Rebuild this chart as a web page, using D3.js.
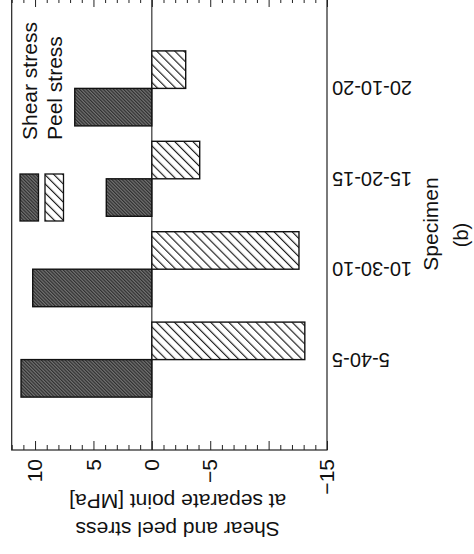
<!DOCTYPE html>
<html>
<head>
<meta charset="utf-8">
<script src="https://cdn.jsdelivr.net/npm/d3@7"></script>
<style>
  html, body { margin: 0; padding: 0; background: #fff; }
  svg { display: block; }
  text { font-family: "Liberation Sans", Arial, Helvetica, sans-serif; fill: #111; }
</style>
</head>
<body>
<svg id="chart" width="474" height="554"></svg>
<script>
// Specimens and stress values at the separation point [MPa]
const specimens   = ["5-40-5", "10-30-10", "15-20-15", "20-10-20"];
const shearStress = [11.2, 10.2, 3.9, 6.6];
const peelStress  = [-13.1, -12.6, -4.1, -2.9];
const seriesNames = ["Shear stress", "Peel stress"];
const majorTicks  = [10, 5, 0, -5, -10, -15];
const tickLabels  = { "10": "10", "5": "5", "0": "0", "-5": "\u22125", "-15": "\u221215" };
const minorTicks  = d3.range(-15, 13).filter(v => v % 5 !== 0);
const valueDomain = [-15, 12];
const yTitle      = ["Shear and peel stress", "at separate point [MPa]"];
const xTitle      = "Specimen";
const panelTag    = "(b)";

const svg = d3.select("#chart");
const W = 452, H = 315.3;

// The panel is laid out as an upright bar chart and then turned a quarter turn
const g = svg.append("g").attr("transform", "translate(11.7,450) rotate(-90)");

const x = d3.scalePoint().domain(specimens).range([0, W]).padding(1);
const y = d3.scaleLinear().domain(valueDomain).range([H, 0]);
const bw = 37.5;

// hatch fills
const defs = svg.append("defs");
const shearPat = defs.append("pattern")
  .attr("id", "shearHatch").attr("patternUnits", "userSpaceOnUse")
  .attr("width", 2.4).attr("height", 2.4).attr("patternTransform", "rotate(45)");
shearPat.append("rect").attr("width", 2.4).attr("height", 2.4).attr("fill", "#727272");
shearPat.append("line").attr("x1", 0.6).attr("x2", 0.6).attr("y1", 0).attr("y2", 2.4)
  .attr("stroke", "#2a2a2a").attr("stroke-width", 1.1);

const peelPat = defs.append("pattern")
  .attr("id", "peelHatch").attr("patternUnits", "userSpaceOnUse")
  .attr("width", 6.4).attr("height", 6.4).attr("patternTransform", "rotate(45)");
peelPat.append("rect").attr("width", 6.4).attr("height", 6.4).attr("fill", "#fff");
peelPat.append("line").attr("x1", 0.6).attr("x2", 0.6).attr("y1", 0).attr("y2", 6.4)
  .attr("stroke", "#111").attr("stroke-width", 1.1);

const fills = ["url(#shearHatch)", "url(#peelHatch)"];

// ticks on the value axis (left) and its mirror (right), pointing inward
function styleAxis(sel) {
  sel.select(".domain").remove();
  sel.selectAll("line").attr("stroke", "#222").attr("stroke-width", 1);
}
g.append("g").call(d3.axisLeft(y).tickValues(minorTicks).tickSize(-5).tickFormat("")).call(styleAxis);
const yMajor = g.append("g")
  .call(d3.axisLeft(y).tickValues(majorTicks).tickSize(-9).tickPadding(9)
    .tickFormat(v => tickLabels[String(v)] || ""))
  .call(styleAxis);
yMajor.attr("font-family", null).attr("font-size", null);
yMajor.selectAll("text").attr("font-size", 21).attr("fill", "#111");

g.append("g").attr("transform", `translate(${W},0)`)
  .call(d3.axisRight(y).tickValues(minorTicks).tickSize(-5).tickFormat("")).call(styleAxis);
g.append("g").attr("transform", `translate(${W},0)`)
  .call(d3.axisRight(y).tickValues(majorTicks).tickSize(-9).tickFormat("")).call(styleAxis);

// zero line
g.append("line")
  .attr("x1", 0).attr("x2", W).attr("y1", y(0)).attr("y2", y(0))
  .attr("stroke", "#222").attr("stroke-width", 1.1);

// bars
const rows = specimens.map((s, i) => ({ s, shear: shearStress[i], peel: peelStress[i] }));
g.selectAll("rect.shear").data(rows).join("rect").attr("class", "shear")
  .attr("x", d => x(d.s) - bw).attr("width", bw)
  .attr("y", d => y(Math.max(0, d.shear))).attr("height", d => Math.abs(y(d.shear) - y(0)))
  .attr("fill", fills[0]).attr("stroke", "#111").attr("stroke-width", 1.4);
g.selectAll("rect.peel").data(rows).join("rect").attr("class", "peel")
  .attr("x", d => x(d.s)).attr("width", bw)
  .attr("y", d => y(Math.max(0, d.peel))).attr("height", d => Math.abs(y(d.peel) - y(0)))
  .attr("fill", fills[1]).attr("stroke", "#111").attr("stroke-width", 1.4);

// frame
g.append("rect").attr("x", 0).attr("y", 0).attr("width", W).attr("height", H)
  .attr("fill", "none").attr("stroke", "#222").attr("stroke-width", 1.2);

// specimen labels, turned along the axis
g.selectAll("text.cat").data(specimens).join("text").attr("class", "cat")
  .attr("transform", d => `translate(${x(d)},${H + 5}) rotate(-90)`)
  .attr("text-anchor", "end").attr("dy", "0.35em")
  .attr("font-size", 20).text(d => d);

// value axis title
g.selectAll("text.ytitle").data(yTitle).join("text").attr("class", "ytitle")
  .attr("transform", (d, i) => `translate(${i === 0 ? -72 : -44},166) rotate(-90)`)
  .attr("text-anchor", "middle").attr("font-size", 21).text(d => d);

// category axis title and panel tag
g.append("text").attr("x", W / 2).attr("y", 426.3)
  .attr("text-anchor", "middle").attr("font-size", 21).text(xTitle);
g.append("text").attr("x", 215).attr("y", 456.8)
  .attr("text-anchor", "middle").attr("font-size", 20).text(panelTag);

// legend
const legend = g.append("g");
seriesNames.forEach((name, i) => {
  const top = i === 0 ? 8.3 : 33.3;
  legend.append("rect").attr("x", 229).attr("y", top).attr("width", 47).attr("height", 18.5)
    .attr("fill", fills[i]).attr("stroke", "#111").attr("stroke-width", 1.3);
  legend.append("text").attr("x", 310).attr("y", top + 17.5)
    .attr("font-size", 21).text(name);
});
</script>
</body>
</html>
